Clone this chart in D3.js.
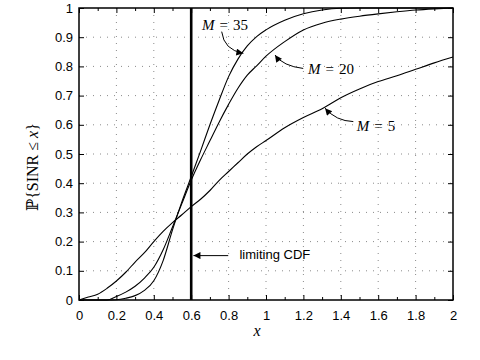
<!DOCTYPE html>
<html>
<head>
<meta charset="utf-8">
<script src="https://cdn.jsdelivr.net/npm/d3@7"></script>
<style>
  body { margin: 0; background: #fff; }
  svg { display: block; }
  .tick text { font-family: "Liberation Sans", Arial, sans-serif; font-size: 13px; fill: #000; }
  .tick line { stroke: #000; }
  .grid line { stroke: #8a8a8a; stroke-width: 1; stroke-dasharray: 1,6; }
</style>
</head>
<body>
<div id="chart"></div>
<script>
// values
var xValues = [0, 0.05, 0.1, 0.15, 0.2, 0.25, 0.3, 0.35, 0.4, 0.45, 0.5, 0.55, 0.6,
  0.65, 0.7, 0.75, 0.8, 0.85, 0.9, 0.95, 1.0, 1.1, 1.2, 1.3, 1.4, 1.5, 1.6, 1.7, 1.8, 1.9, 2.0];
var cdfM5 = [0, 0.01, 0.02, 0.04, 0.065, 0.095, 0.13, 0.162, 0.2, 0.235, 0.265, 0.292, 0.32,
  0.345, 0.375, 0.41, 0.44, 0.47, 0.5, 0.525, 0.546, 0.59, 0.625, 0.655, 0.693, 0.723, 0.748, 0.768, 0.79, 0.812, 0.832];
var cdfM20 = [0, 0, 0, 0, 0.012, 0.027, 0.047, 0.075, 0.112, 0.172, 0.25, 0.33, 0.41,
  0.48, 0.545, 0.61, 0.67, 0.725, 0.77, 0.802, 0.835, 0.885, 0.925, 0.948, 0.962, 0.972, 0.98, 0.987, 0.993, 0.997, 1.0];
var cdfM35 = [0, 0, 0, 0, 0.001, 0.006, 0.015, 0.033, 0.066, 0.135, 0.24, 0.336, 0.422,
  0.51, 0.6, 0.685, 0.765, 0.825, 0.87, 0.902, 0.925, 0.958, 0.98, 0.993, 0.999, 1, 1, 1, 1, 1, 1];
var limitX = [0.6, 0.6];
var limitY = [0, 1];

var xTicks = [0, 0.2, 0.4, 0.6, 0.8, 1, 1.2, 1.4, 1.6, 1.8, 2];
var xTickLabels = ["0", "0.2", "0.4", "0.6", "0.8", "1", "1.2", "1.4", "1.6", "1.8", "2"];
var xMinorTicks = [0.1, 0.3, 0.5, 0.7, 0.9, 1.1, 1.3, 1.5, 1.7, 1.9];
var yTicks = [0, 0.1, 0.2, 0.3, 0.4, 0.5, 0.6, 0.7, 0.8, 0.9, 1];
var yTickLabels = ["0", "0.1", "0.2", "0.3", "0.4", "0.5", "0.6", "0.7", "0.8", "0.9", "1"];

// annotation anchors in data units
var notes = [
  {name: "35", lx: 0.658, ly: 0.925, from: [0.763, 0.919], ctrl: [0.775, 0.856], to: [0.879, 0.845]},
  {name: "20", lx: 1.225, ly: 0.774, from: [1.199, 0.793], ctrl: [1.091, 0.801], to: [1.048, 0.839]},
  {name: "5", lx: 1.485, ly: 0.579, from: [1.467, 0.611], ctrl: [1.374, 0.613], to: [1.316, 0.657]}
];

var width = 480, height = 360;
var margin = {top: 8, right: 27, bottom: 60, left: 79};
var innerW = width - margin.left - margin.right;
var innerH = height - margin.top - margin.bottom;

var svg = d3.select("#chart").append("svg")
    .attr("width", width)
    .attr("height", height);

svg.append("defs").append("marker")
    .attr("id", "arrow")
    .attr("viewBox", "0 0 10 10")
    .attr("refX", 10)
    .attr("refY", 5)
    .attr("markerUnits", "userSpaceOnUse")
    .attr("markerWidth", 10)
    .attr("markerHeight", 7)
    .attr("orient", "auto")
  .append("path")
    .attr("d", "M0,0 L10,5 L0,10 z")
    .attr("fill", "#000");

var g = svg.append("g")
    .attr("transform", "translate(" + margin.left + "," + margin.top + ")");

var x = d3.scaleLinear().domain([0, 2]).range([0, innerW]);
var y = d3.scaleLinear().domain([0, 1]).range([innerH, 0]);

// grid
var grid = g.append("g").attr("class", "grid");
grid.selectAll("line.gx")
  .data(xTicks.slice(1, -1))
  .enter().append("line")
    .attr("x1", function(d) { return x(d); })
    .attr("x2", function(d) { return x(d); })
    .attr("y1", 0)
    .attr("y2", innerH);
grid.selectAll("line.gy")
  .data(yTicks.slice(1, -1))
  .enter().append("line")
    .attr("x1", 0)
    .attr("x2", innerW)
    .attr("y1", function(d) { return y(d); })
    .attr("y2", function(d) { return y(d); });

// axes, ticks pointing inward
var labelOf = function(values, labels) {
  return function(d) { return labels[values.indexOf(d)]; };
};

g.append("g")
    .attr("transform", "translate(0," + innerH + ")")
    .call(d3.axisBottom(x).tickValues(xTicks).tickFormat(labelOf(xTicks, xTickLabels))
      .tickSizeInner(-5).tickSizeOuter(0).tickPadding(11));
g.append("g")
    .attr("transform", "translate(0," + innerH + ")")
    .call(d3.axisBottom(x).tickValues(xMinorTicks).tickFormat("")
      .tickSizeInner(-3).tickSizeOuter(0));
g.append("g")
    .call(d3.axisTop(x).tickValues(xTicks).tickFormat("").tickSizeInner(-5).tickSizeOuter(0));
g.append("g")
    .call(d3.axisTop(x).tickValues(xMinorTicks).tickFormat("").tickSizeInner(-3).tickSizeOuter(0));
g.append("g")
    .call(d3.axisLeft(y).tickValues(yTicks).tickFormat(labelOf(yTicks, yTickLabels))
      .tickSizeInner(-5).tickSizeOuter(0).tickPadding(6));
g.append("g")
    .attr("transform", "translate(" + innerW + ",0)")
    .call(d3.axisRight(y).tickValues(yTicks).tickFormat("").tickSizeInner(-5).tickSizeOuter(0));
g.selectAll(".domain").remove();

// curves
var line = d3.line()
    .x(function(d) { return x(d[0]); })
    .y(function(d) { return y(d[1]); })
    .curve(d3.curveMonotoneX);

[cdfM5, cdfM20, cdfM35].forEach(function(values) {
  g.append("path")
      .datum(xValues.map(function(v, i) { return [v, values[i]]; }))
      .attr("fill", "none")
      .attr("stroke", "#000")
      .attr("stroke-width", 1.1)
      .attr("d", line);
});

var stepLine = d3.line()
    .x(function(d) { return x(d[0]); })
    .y(function(d) { return y(d[1]); });
g.append("path")
    .datum(limitX.map(function(v, i) { return [v, limitY[i]]; }))
    .attr("fill", "none")
    .attr("stroke", "#000")
    .attr("stroke-width", 2.6)
    .attr("d", stepLine);

// frame
g.append("rect")
    .attr("width", innerW)
    .attr("height", innerH)
    .attr("fill", "none")
    .attr("stroke", "#000")
    .attr("stroke-width", 1.5);

// annotations
notes.forEach(function(n) {
  g.append("path")
      .attr("d", "M" + x(n.from[0]) + "," + y(n.from[1]) +
        "Q" + x(n.ctrl[0]) + "," + y(n.ctrl[1]) + " " + x(n.to[0]) + "," + y(n.to[1]))
      .attr("fill", "none")
      .attr("stroke", "#000")
      .attr("stroke-width", 1)
      .attr("marker-end", "url(#arrow)");
  var t = g.append("text")
      .attr("x", x(n.lx))
      .attr("y", y(n.ly))
      .attr("font-family", "'Liberation Serif', 'DejaVu Serif', serif")
      .attr("font-size", 15);
  t.append("tspan").attr("font-style", "italic").text("M");
  t.append("tspan").attr("dx", 5).text("=");
  t.append("tspan").attr("dx", 5).text(n.name);
});

g.append("line")
    .attr("x1", x(0.798))
    .attr("y1", y(0.152))
    .attr("x2", x(0.612))
    .attr("y2", y(0.152))
    .attr("stroke", "#000")
    .attr("stroke-width", 1)
    .attr("marker-end", "url(#arrow)");
g.append("text")
    .attr("x", x(0.858))
    .attr("y", y(0.14))
    .attr("font-family", "'Liberation Sans', Arial, sans-serif")
    .attr("font-size", 13)
    .text("limiting CDF");

// axis labels
svg.append("text")
    .attr("x", 257)
    .attr("y", 336)
    .attr("text-anchor", "middle")
    .attr("font-family", "'Liberation Serif', 'DejaVu Serif', serif")
    .attr("font-style", "italic")
    .attr("font-size", 16)
    .text("x");

var ylab = svg.append("text")
    .attr("transform", "translate(38,167) rotate(-90)")
    .attr("text-anchor", "middle")
    .attr("font-family", "'Liberation Serif', 'DejaVu Serif', serif")
    .attr("font-size", 16);
ylab.append("tspan").text("\u2119{SINR ");
ylab.append("tspan").text("\u2264 ");
ylab.append("tspan").attr("font-style", "italic").text("x");
ylab.append("tspan").text("}");
</script>
</body>
</html>
